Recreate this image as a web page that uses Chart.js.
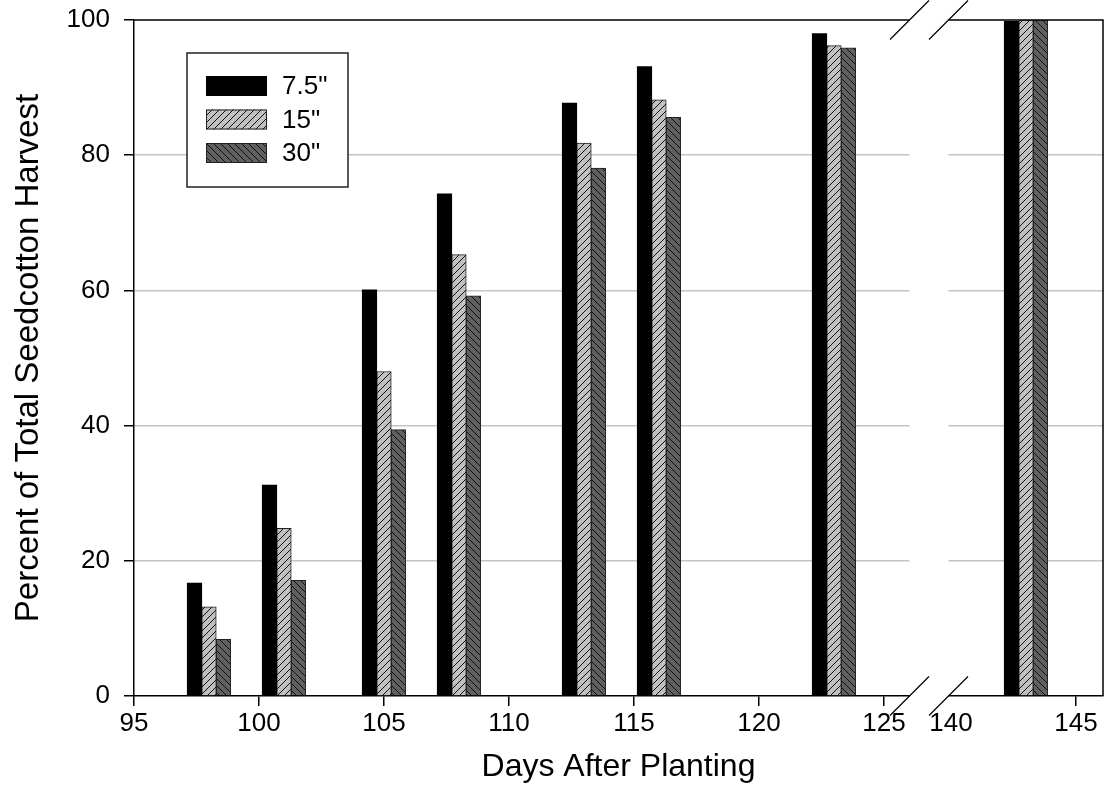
<!DOCTYPE html>
<html><head><meta charset="utf-8">
<style>html,body{margin:0;padding:0;background:#fff}</style>
<script src="https://cdn.jsdelivr.net/npm/chart.js@4.4.1/dist/chart.umd.min.js"></script>
</head><body>
<canvas id="c" width="1108" height="812" style="width:1108px;height:812px;display:block"></canvas>
<script>
// ---- data ----
const DAYS = [98, 101, 105, 108, 113, 116, 123, 143];
const SERIES_LABELS = ['7.5"', '15"', '30"'];
const S_7_5 = [16.7, 31.2, 60.1, 74.3, 87.7, 93.1, 98.0, 99.8];
const S_15  = [13.2, 24.8, 48.0, 65.3, 81.8, 88.2, 96.2, 100];
const S_30  = [8.4, 17.1, 39.4, 59.2, 78.1, 85.6, 95.9, 100];
const X_TICK_LABELS = [95, 100, 105, 110, 115, 120, 125, 140, 145];
const Y_TICKS = [0, 20, 40, 60, 80, 100];

// axis break: 125 ... 140 collapsed
const BREAK_FROM = 125, BREAK_TO = 140, BREAK_SHIFT = 12.32;
function toAxis(d) { return d >= BREAK_TO ? d - BREAK_SHIFT : d; }

const FONT = "'Liberation Sans', Arial, Helvetica, sans-serif";

function hatch(bg, dir) {
  const s = 7;
  const c = document.createElement('canvas');
  c.width = s; c.height = s;
  const g = c.getContext('2d');
  g.fillStyle = bg; g.fillRect(0, 0, s, s);
  g.strokeStyle = '#111'; g.lineWidth = 1;
  g.beginPath();
  if (dir > 0) {
    g.moveTo(0, s); g.lineTo(s, 0);
    g.moveTo(-1, 1); g.lineTo(1, -1);
    g.moveTo(s - 1, s + 1); g.lineTo(s + 1, s - 1);
  } else {
    g.moveTo(0, 0); g.lineTo(s, s);
    g.moveTo(-1, s - 1); g.lineTo(1, s + 1);
    g.moveTo(s - 1, -1); g.lineTo(s + 1, 1);
  }
  g.stroke();
  return g.createPattern(c, 'repeat');
}

const ctx = document.getElementById('c').getContext('2d');
const fill15 = hatch('#c0c0c0', 1);
const fill30 = hatch('#606060', -1);

function pts(arr) { return DAYS.map((d, i) => ({ x: toAxis(d), y: arr[i] })); }

const BAR_W = 14.5;

const breakPlugin = {
  id: 'breakAndFrame',
  afterDraw(chart) {
    const { ctx, chartArea: a } = chart;
    ctx.save();
    // top and right frame
    ctx.strokeStyle = '#000'; ctx.lineWidth = 1.5;
    ctx.beginPath();
    ctx.moveTo(a.left, a.top); ctx.lineTo(a.right, a.top); ctx.lineTo(a.right, a.bottom);
    ctx.stroke();
    // gap between the two axis segments
    const gx1 = 909.5, gx2 = 948.5;
    ctx.fillStyle = '#fff';
    ctx.fillRect(gx1, a.top - 2, gx2 - gx1, a.bottom - a.top + 4);
    // slashes
    ctx.strokeStyle = '#000'; ctx.lineWidth = 1.2;
    ctx.beginPath();
    [a.top, a.bottom].forEach(y => {
      [gx1, gx2].forEach(x => {
        ctx.moveTo(x - 19.5, y + 19.5); ctx.lineTo(x + 19.5, y - 19.5);
      });
    });
    ctx.stroke();
    // legend
    const bx = 187, by = 53, bw = 161, bh = 134;
    ctx.fillStyle = '#fff';
    ctx.fillRect(bx, by, bw, bh);
    ctx.strokeStyle = '#222'; ctx.lineWidth = 1.5;
    ctx.strokeRect(bx, by, bw, bh);
    chart.data.datasets.forEach((ds, i) => {
      const sy = 76 + i * 33.5;
      ctx.fillStyle = ds.backgroundColor;
      ctx.fillRect(206, sy, 61, 20);
      if (ds.borderWidth) {
        ctx.strokeStyle = ds.borderColor; ctx.lineWidth = 1;
        ctx.strokeRect(206.5, sy + 0.5, 60, 19);
      }
      ctx.fillStyle = '#000';
      ctx.font = '26px ' + FONT;
      ctx.textBaseline = 'middle';
      ctx.textAlign = 'left';
      ctx.fillText(ds.label, 282, sy + 11);
    });
    ctx.restore();
  }
};

new Chart(ctx, {
  type: 'bar',
  data: {
    datasets: [
      { label: SERIES_LABELS[0], data: pts(S_7_5), backgroundColor: '#000', borderWidth: 0, barThickness: BAR_W },
      { label: SERIES_LABELS[1], data: pts(S_15), backgroundColor: fill15, borderColor: '#222', borderWidth: 1, barThickness: BAR_W },
      { label: SERIES_LABELS[2], data: pts(S_30), backgroundColor: fill30, borderColor: '#222', borderWidth: 1, barThickness: BAR_W }
    ]
  },
  options: {
    responsive: false,
    animation: false,
    devicePixelRatio: 1,
    layout: { padding: { top: 20, right: 5, left: 0, bottom: 0 } },
    plugins: { legend: { display: false }, tooltip: { enabled: false } },
    scales: {
      x: {
        type: 'linear',
        offset: false,
        min: 95,
        max: 95 + (1103 - 134) / 25,
        afterBuildTicks(scale) {
          scale.ticks = X_TICK_LABELS.map(v => ({ value: toAxis(v) }));
        },
        afterFit(scale) { scale.height = 116; scale.paddingLeft = 0; scale.paddingRight = 0; },
        ticks: {
          autoSkip: false, maxRotation: 0,
          color: '#000', font: { family: FONT, size: 26 }, padding: 2,
          callback: (v, i) => String(X_TICK_LABELS[i])
        },
        grid: {
          offset: false,
          drawOnChartArea: false, drawTicks: true, tickLength: 10, lineWidth: 1.5,
          tickColor: c => (X_TICK_LABELS[c.index] === BREAK_TO ? 'rgba(0,0,0,0)' : '#000'),
          color: '#000'
        },
        border: { display: true, color: '#000', width: 1.5 },
        title: {
          display: true, text: 'Days After Planting', color: '#000',
          font: { family: FONT, size: 32 }, padding: { top: 0, bottom: 26 }
        }
      },
      y: {
        min: 0, max: 100,
        afterBuildTicks(scale) { scale.ticks = Y_TICKS.map(v => ({ value: v })); },
        afterFit(scale) { scale.width = 134; scale.paddingTop = 0; scale.paddingBottom = 0; },
        ticks: { color: '#000', font: { family: FONT, size: 26 }, padding: 14 },
        grid: {
          drawTicks: true, tickLength: 10, lineWidth: 1.5,
          color: c => (c.tick && (c.tick.value === 0 || c.tick.value === 100) ? 'rgba(0,0,0,0)' : '#c4c4c4'),
          tickColor: '#000'
        },
        border: { display: true, color: '#000', width: 1.5 },
        title: {
          display: true, text: 'Percent of Total Seedcotton Harvest', color: '#000',
          font: { family: FONT, size: 33 }, padding: { top: 9, bottom: 0 }
        }
      }
    }
  },
  plugins: [breakPlugin]
});
</script>
</body></html>
